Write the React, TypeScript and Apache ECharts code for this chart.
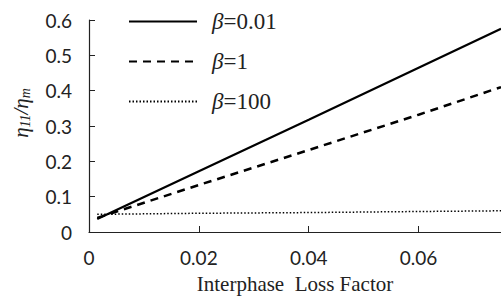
import React, { useEffect, useRef } from "react";
import * as echarts from "echarts";

const xValues = [0.0015, 0.02, 0.04, 0.06, 0.075];
const beta001 = [0.037, 0.172, 0.318, 0.465, 0.575];
const beta1 = [0.04, 0.133, 0.232, 0.332, 0.41];
const beta100 = [0.05, 0.053, 0.055, 0.058, 0.06];
const seriesNames = ["β=0.01", "β=1", "β=100"];
const xTicks = [0, 0.02, 0.04, 0.06];
const yTicks = [0, 0.1, 0.2, 0.3, 0.4, 0.5, 0.6];

export default function App() {
  const ref = useRef<HTMLDivElement>(null);
  useEffect(() => {
    if (!ref.current) return;
    const chart = echarts.init(ref.current, null, { renderer: "svg" });
    const pair = (ys: number[]) => xValues.map((x, i) => [x, ys[i]]);
    const labelFont = { fontFamily: "Lato", fontSize: 19, color: "#222" };
    chart.setOption({
      animation: false,
      backgroundColor: "#fff",
      grid: { left: 89, right: 0, top: 20, bottom: 65, containLabel: false, outerBoundsMode: "none" },
      legend: {
        orient: "vertical",
        left: 123,
        top: 5,
        itemWidth: 68,
        itemHeight: 14,
        itemGap: 17,
        itemStyle: { opacity: 0 },
        formatter: (name: string) => "{b|β}{t|" + name.slice(1) + "}",
        textStyle: {
          rich: {
            b: { fontFamily: "Liberation Serif", fontStyle: "italic", fontSize: 23, color: "#222" },
            t: { fontFamily: "Liberation Serif", fontSize: 23, color: "#222" },
          },
          padding: [0, 0, 0, 10],
        },
        data: seriesNames,
      },
      xAxis: {
        type: "value",
        min: 0,
        max: 0.075,
        interval: 0.02,
        name: "Interphase  Loss Factor",
        nameLocation: "middle",
        nameGap: 41,
        nameTextStyle: { fontFamily: "Liberation Serif", fontSize: 21, lineHeight: 21, color: "#222" },
        splitLine: { show: false },
        axisLine: { lineStyle: { color: "#222", width: 1.2 } },
        axisTick: { inside: true, length: 6, customValues: xTicks, lineStyle: { color: "#222" } },
        axisLabel: { ...labelFont, margin: 16, customValues: xTicks, formatter: (v: number) => String(v) },
      },
      yAxis: {
        type: "value",
        min: 0,
        max: 0.6,
        interval: 0.1,
        splitLine: { show: false },
        axisLine: { show: true, lineStyle: { color: "#222", width: 1.2 } },
        axisTick: { show: true, inside: true, length: 6, customValues: yTicks, lineStyle: { color: "#222" } },
        axisLabel: { ...labelFont, margin: 17, customValues: yTicks, formatter: (v: number) => String(Math.round(v * 10) / 10) },
      },
      graphic: [
        {
          type: "text",
          x: 21,
          y: 113,
          rotation: Math.PI / 2,
          style: {
            text: "{e|η}{s|11}{e|/η}{s|m}",
            align: "center",
            verticalAlign: "middle",
            rich: {
              e: { fontFamily: "Liberation Serif", fontStyle: "italic", fontSize: 21, fill: "#222" },
              s: { fontFamily: "Liberation Serif", fontStyle: "italic", fontSize: 14, fill: "#222", padding: [8, 0, 0, 0] },
            },
          },
        },
      ],
      series: [
        { name: seriesNames[0], type: "line", symbol: "none", data: pair(beta001), lineStyle: { color: "#000", width: 2.2, type: "solid" }, itemStyle: { color: "#000" } },
        { name: seriesNames[1], type: "line", symbol: "none", data: pair(beta1), lineStyle: { color: "#000", width: 2.5, type: [8, 6] }, itemStyle: { color: "#000" } },
        { name: seriesNames[2], type: "line", symbol: "none", data: pair(beta100), lineStyle: { color: "#000", width: 1.5, type: [1.5, 2] }, itemStyle: { color: "#000" } },
      ],
    });
    return () => chart.dispose();
  }, []);
  return <div ref={ref} style={{ position: "absolute", left: 0, top: 0, width: 501, height: 297, background: "#fff" }} />;
}
